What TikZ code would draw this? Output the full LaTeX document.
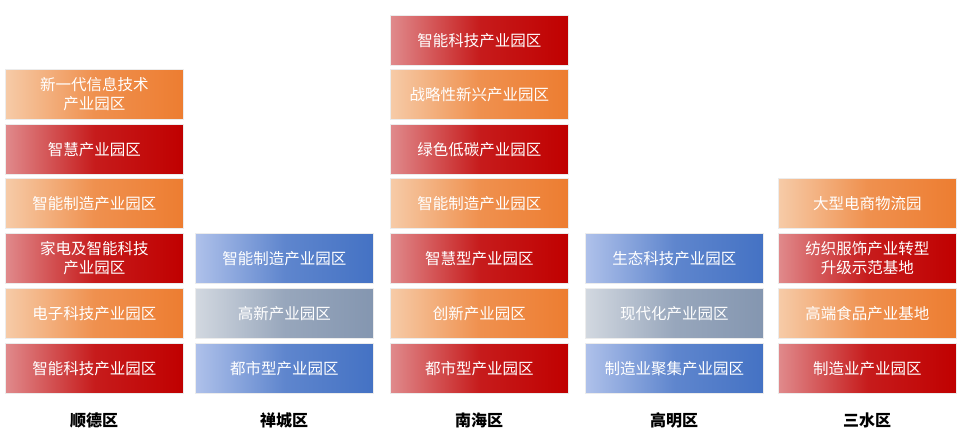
\documentclass[tikz,border=0pt]{standalone}
\usepackage{fontspec}
\setmainfont{Noto Sans CJK SC}
\definecolor{rl}{HTML}{E08A8C}\definecolor{rd}{HTML}{C00000}
\definecolor{ol}{HTML}{F6CBA8}\definecolor{od}{HTML}{ED7D31}
\definecolor{bl}{HTML}{AFC1EA}\definecolor{bd}{HTML}{4472C4}
\definecolor{gl}{HTML}{D2D8E0}\definecolor{gd}{HTML}{8496B0}
\begin{document}
\begin{tikzpicture}[x=1pt,y=-1pt,
  box/.style={draw=white!85!gray,line width=0.8pt,minimum width=178pt,minimum height=50pt,inner sep=0pt,text=white,align=center,font=\fontsize{15.5}{19}\selectfont,anchor=north west},
  rbox/.style={box,left color=rl,right color=rd,middle color=rd!80!rl},
  obox/.style={box,left color=ol,right color=od,middle color=od!75!ol},
  bbox/.style={box,left color=bl,right color=bd,middle color=bd!75!bl},
  gbox/.style={box,left color=gl,right color=gd,middle color=gd!75!gl},
  lab/.style={font=\fontsize{16}{18}\selectfont\bfseries,text=black}]
\useasboundingbox (0,0) rectangle (960,446);
\def\ra{15}\def\rb{69}\def\rc{124}\def\rd{178}\def\re{233}\def\rf{288}\def\rg{343}
% Shunde
\node[rbox] (s6) at (5,\rg) {智能科技产业园区};
\node[obox] (s5) at (5,\rf) {电子科技产业园区};
\node[rbox] (s4) at (5,\re) {家电及智能科技\\产业园区};
\node[obox] (s3) at (5,\rd) {智能制造产业园区};
\node[rbox] (s2) at (5,\rc) {智慧产业园区};
\node[obox] (s1) at (5,\rb) {新一代信息技术\\产业园区};
% Chancheng
\node[bbox] (c6) at (195,\rg) {都市型产业园区};
\node[gbox] (c5) at (195,\rf) {高新产业园区};
\node[bbox] (c4) at (195,\re) {智能制造产业园区};
% Nanhai
\node[rbox] (n6) at (390,\rg) {都市型产业园区};
\node[obox] (n5) at (390,\rf) {创新产业园区};
\node[rbox] (n4) at (390,\re) {智慧型产业园区};
\node[obox] (n3) at (390,\rd) {智能制造产业园区};
\node[rbox] (n2) at (390,\rc) {绿色低碳产业园区};
\node[obox] (n1) at (390,\rb) {战略性新兴产业园区};
\node[rbox] (n0) at (390,\ra) {智能科技产业园区};
% Gaoming
\node[bbox] (g6) at (585,\rg) {制造业聚集产业园区};
\node[gbox] (g5) at (585,\rf) {现代化产业园区};
\node[bbox] (g4) at (585,\re) {生态科技产业园区};
% Sanshui
\node[rbox] (m6) at (778,\rg) {制造业产业园区};
\node[obox] (m5) at (778,\rf) {高端食品产业基地};
\node[rbox] (m4) at (778,\re) {纺织服饰产业转型\\升级示范基地};
\node[obox] (m3) at (778,\rd) {大型电商物流园};
% labels
\node[lab] (ls) at (94,420) {顺德区};
\node[lab] (lc) at (284,420) {禅城区};
\node[lab] (ln) at (479,420) {南海区};
\node[lab] (lg) at (674,420) {高明区};
\node[lab] (lm) at (867,420) {三水区};
\end{tikzpicture}
\end{document}
